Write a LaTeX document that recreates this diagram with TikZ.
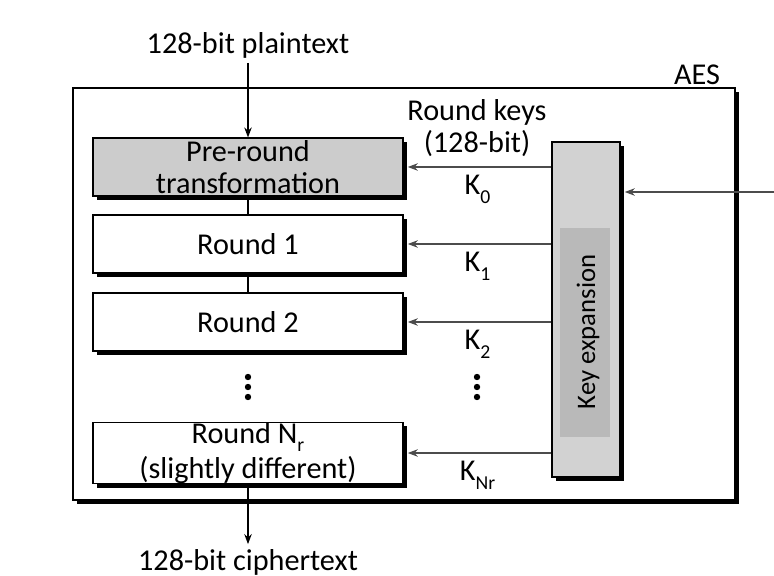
\documentclass[tikz,border=0pt]{standalone}
\usepackage{fontspec}
\setmainfont{Carlito}
\usetikzlibrary{arrows.meta,positioning,shadows}

\newcommand{\lowsub}[1]{\raisebox{-0.6ex}{\fontsize{14}{14}\selectfont #1}}

\begin{document}
\begin{tikzpicture}[
    x=0.025cm, y=-0.025cm,
    font=\fontsize{21.5}{23}\selectfont,
    blackshadow/.style={drop shadow={shadow xshift=2.8pt, shadow yshift=-2.8pt, opacity=1, fill=black}},
    stage/.style={draw, line width=0.8pt, fill=white, minimum width=7.75cm, minimum height=1.45cm, align=center, inner sep=0pt, blackshadow},
    keyarrow/.style={-{Stealth[length=2.5mm]}, line width=1pt, draw=gray!60!black, shorten >=3pt},
    flow/.style={line width=0.9pt}
]
\fill[white] (0,0) rectangle (774,576);
\useasboundingbox (0,0) rectangle (774,576);

% outer AES box
\node[draw, line width=1.2pt, fill=white, minimum width=16.55cm, minimum height=10.3cm, blackshadow] (aes) at (404,294) {};
\node (aeslbl) at (697,75) {AES};

% cipher stages
\node[stage, fill=gray!40] (pre) at (248,167) {Pre-round\\transformation};
\node[stage] (r1) at (248,244) {Round 1};
\node[stage] (r2) at (248,322) {Round 2};
\node[stage, minimum height=1.5cm] (rn) at (248,453) {Round N\lowsub{r}\\[2pt](slightly different)};

\node (plain) at (248,45) {128-bit plaintext};
\node (cipher) at (248,562) {128-bit ciphertext};

\draw[flow, -{Stealth[length=2.5mm]}] (plain.south) -- (pre.north);
\draw[flow] (pre.south) -- (r1.north);
\draw[flow] (r1.south) -- (r2.north);
\draw[flow, -{Stealth[length=2.5mm]}] (rn.south) -- (cipher.north);

\foreach \y in {377,387,397} {
    \fill (248,\y) circle (3.2);
    \fill (477,\y) circle (3.2);
}

% key schedule
\node[draw, line width=0.8pt, fill=gray!35, minimum width=1.7cm, minimum height=8.375cm, blackshadow] (keyexp) at (586,309.5) {};
\node[fill=gray!55, minimum width=1.25cm, minimum height=5.225cm, inner sep=0pt] (keyinner) at (585,332.5) {};
\node[rotate=90, font=\fontsize{19}{21}\selectfont] (keylbl) at (588,332) {Key expansion};

\node[align=center] (rkeys) at (477,128) {Round keys\\(128-bit)};

\coordinate (master) at (774,192);
\draw[keyarrow] (master) -- (keyexp.east |- master);

\draw[keyarrow] (keyexp.west |- pre.east) -- node[below=2pt] (k0) {K\lowsub{0}} (pre.east);
\draw[keyarrow] (keyexp.west |- r1.east) -- node[below=2pt] (k1) {K\lowsub{1}} (r1.east);
\draw[keyarrow] (keyexp.west |- r2.east) -- node[below=2pt] (k2) {K\lowsub{2}} (r2.east);
\draw[keyarrow] (keyexp.west |- rn.east) -- node[below=2pt] (kn) {K\lowsub{Nr}} (rn.east);
\end{tikzpicture}
\end{document}
